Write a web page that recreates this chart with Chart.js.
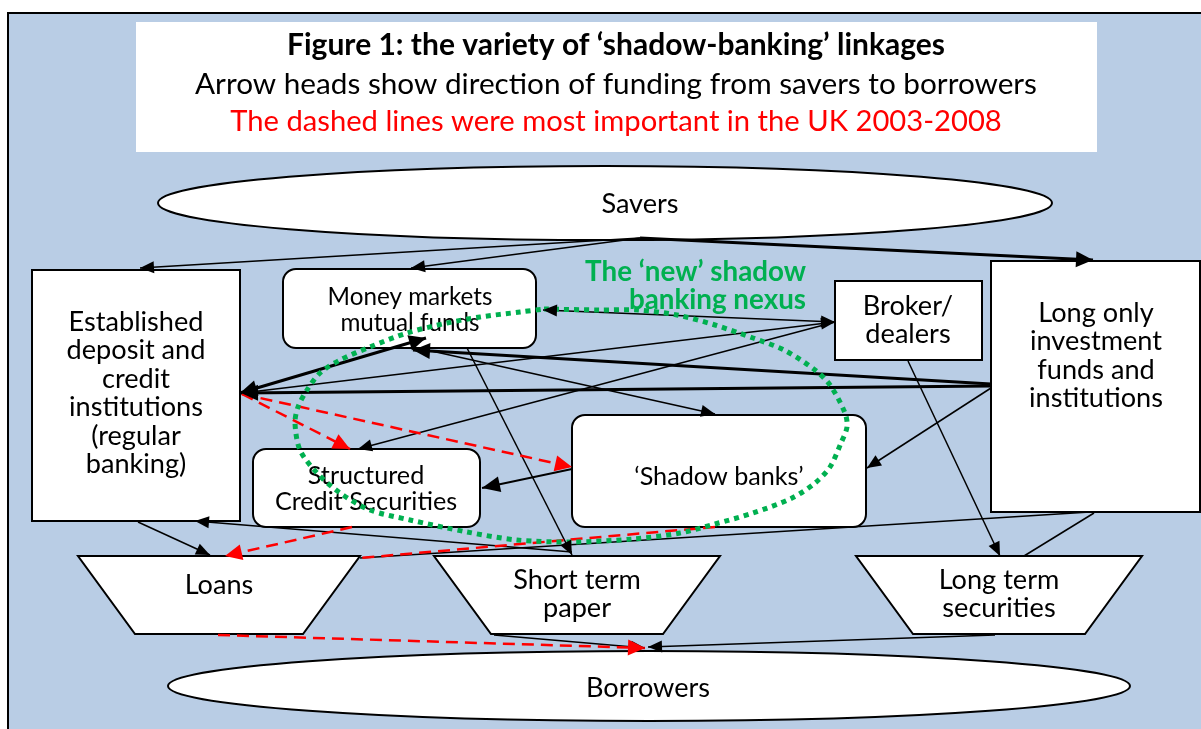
<!DOCTYPE html>
<html><head><meta charset="utf-8">
<script src="https://cdn.jsdelivr.net/npm/chart.js@4"></script>
<style>html,body{margin:0;padding:0;background:#fff;overflow:hidden}</style>
</head><body>
<canvas id="c" width="1201" height="729"></canvas>
<script>
// ---------------- DATA ----------------
const titleLines = [
  "Figure 1: the variety of \u2018shadow-banking\u2019 linkages",
  "Arrow heads show direction of funding from savers to borrowers",
  "The dashed lines were most important in the UK 2003-2008"
];
const nexusLines = ["The \u2018new\u2019 shadow", "banking nexus"];

const nodeLabels = [
  ["Savers"], ["Borrowers"],
  ["Established","deposit and","credit","institutions","(regular","banking)"],
  ["Money markets","mutual funds"], ["Broker/","dealers"],
  ["Long only","investment","funds and","institutions"],
  ["\u2018Shadow banks\u2019"], ["Structured","Credit Securities"],
  ["Loans"], ["Short term","paper"], ["Long term","securities"]
];
const nodeKinds  = ["ellipse","ellipse","rect","round","rect","rect","round","round","trap","trap","trap"];
const nodeLeft   = [158, 168,  32, 283, 835,  991, 572, 253,  78, 434,  856];
const nodeTop    = [166, 651, 270, 269, 281,  261, 415, 449, 556, 556,  556];
const nodeRight  = [1052,1130, 240, 536, 982, 1200, 866, 480, 360, 720, 1142];
const nodeBottom = [240, 721, 521, 348, 360,  512, 527, 527, 634, 634,  634];
const labelX     = [640, 648, 136, 410, 908, 1096, 719, 366, 219, 577,  999];
const labelY     = [204, 688, 322, 297, 306,  313, 477, 476, 585, 580,  580];

// funding links: start -> end (arrow head position)
const edgeX1 = [640,640,640,543,240,991,991,427,467,835,242,908,991,1094,1090,572,138,494,995,572, 242,242,352,715,218];
const edgeY1 = [238,238,238,310,393,386,384,350,348,322,393,361,388, 513, 512,552,522,635,635,469, 394,394,527,527,635];
const edgeX2 = [140,411,1093,835,426,241,413,715,572,358,835,1000,867,1024,360,195,210,645,648,482, 350,572,225,360,645];
const edgeY2 = [268,268,260,322,338,393,350,414,555,449,322,556,468, 556, 558,521,555,648,647,488, 449,467,556,558,648];
const edgeKind = ["thin","thin","thick","thin","thick","thick","thick","thin","thin","thin","thin","thin","thin","thin","thin","thin","thin","thin","thin","mid",
                  "red","red","red","red","red"];
const edgeHeads = ["end","end","end","both","both","end","end","end","end","end","end","end","end","none","none","end","end","end","end","end",
                   "end","end","end","none","end"];

// the 'new' shadow banking nexus loop
const loopX = [544,600,638,677,715,753,784,815,830,845,847,841,830,815,792,753,715,680,633,573,517,467,410,370,340,317,300,295,298,307,320,340,370,407,447,480,520,544];
const loopY = [309,310,310,315,325,338,350,370,385,413,427,443,467,483,498,513,524,533,539,542,540,532,520,510,493,473,450,423,407,390,373,360,347,333,323,317,312,309];

// ---------------- STYLE ----------------
const FONT = 'Lato, "Open Sans", "DejaVu Sans", sans-serif';
const nodeFontSize = [28,28,28,25,28,28,26,26,28,28,28];
const nodeLineGap  = [0,0,28.5,26,28,28.5,0,26,0,28,28];
const kindStyle = {
  thin:  {w:1.5, color:'#000', dash:[], headL:14, headW:6},
  mid:   {w:1.8, color:'#000', dash:[], headL:18, headW:8},
  thick: {w:3,   color:'#000', dash:[], headL:17, headW:8},
  red:   {w:2.5, color:'#ff0000', dash:[12,7], headL:17, headW:8}
};

const datasets = [];
for (let i = 0; i < edgeX1.length; i++) {
  const s = kindStyle[edgeKind[i]];
  datasets.push({
    data: [{x: edgeX1[i], y: edgeY1[i]}, {x: edgeX2[i], y: edgeY2[i]}],
    showLine: true, pointRadius: 0, borderColor: s.color, borderWidth: s.w,
    borderDash: s.dash, borderCapStyle: 'butt', fill: false,
    order: edgeKind[i] === 'red' ? 1 : 2
  });
}
datasets.push({
  data: loopX.map((x, i) => ({x, y: loopY[i]})),
  showLine: true, pointRadius: 0, borderColor: '#00b050', borderWidth: 5,
  borderDash: [5,5], borderCapStyle: 'butt', tension: 0.3, fill: false, order: 0
});

function fitSize(ctx, text, weight, target) {
  ctx.font = `${weight} 100px ${FONT}`;
  return 100 * target / ctx.measureText(text).width;
}

const diagram = {
  id: 'diagram',
  beforeDatasetsDraw(chart) {
    const ctx = chart.ctx;
    const X = v => chart.scales.x.getPixelForValue(v);
    const Y = v => chart.scales.y.getPixelForValue(v);
    ctx.save();
    // page frame
    ctx.fillStyle = '#fff'; ctx.fillRect(0,0,chart.width,chart.height);
    ctx.fillStyle = '#b9cde5';
    ctx.fillRect(X(8), Y(13), X(1220)-X(8), Y(750)-Y(13));
    ctx.strokeStyle = '#000'; ctx.lineWidth = 2;
    ctx.strokeRect(X(8), Y(13), X(1220)-X(8), Y(750)-Y(13));
    // title box
    ctx.fillStyle = '#fff';
    ctx.fillRect(X(136), Y(22), X(1097)-X(136), Y(152)-Y(22));
    const tW = [658, 842, 772], tB = [55, 94, 131], tWeight = ['bold','normal','normal'], tCol = ['#000','#000','#ff0000'];
    ctx.textAlign = 'center'; ctx.textBaseline = 'alphabetic';
    titleLines.forEach((t, i) => {
      const sz = fitSize(ctx, t, tWeight[i], tW[i]);
      ctx.font = `${tWeight[i]} ${sz}px ${FONT}`;
      ctx.fillStyle = tCol[i];
      ctx.fillText(t, X(616), Y(tB[i]));
    });
    // calibration: "Established" is ~135px wide at nominal 28px
    const cal = fitSize(ctx, "Established", 'normal', 135) / 28;
    // nodes
    for (let i = 0; i < nodeKinds.length; i++) {
      const l = X(nodeLeft[i]), t = Y(nodeTop[i]), r = X(nodeRight[i]), b = Y(nodeBottom[i]);
      ctx.beginPath();
      if (nodeKinds[i] === 'ellipse') {
        ctx.ellipse((l+r)/2, (t+b)/2, (r-l)/2, (b-t)/2, 0, 0, Math.PI*2);
      } else if (nodeKinds[i] === 'rect') {
        ctx.rect(l, t, r-l, b-t);
      } else if (nodeKinds[i] === 'round') {
        const rad = 13;
        ctx.moveTo(l+rad, t); ctx.lineTo(r-rad, t); ctx.arcTo(r, t, r, t+rad, rad);
        ctx.lineTo(r, b-rad); ctx.arcTo(r, b, r-rad, b, rad);
        ctx.lineTo(l+rad, b); ctx.arcTo(l, b, l, b-rad, rad);
        ctx.lineTo(l, t+rad); ctx.arcTo(l, t, l+rad, t, rad); ctx.closePath();
      } else {
        const ins = 57;
        ctx.moveTo(l, t); ctx.lineTo(r, t); ctx.lineTo(r-ins, b); ctx.lineTo(l+ins, b); ctx.closePath();
      }
      ctx.fillStyle = '#fff'; ctx.fill();
      ctx.lineWidth = 2; ctx.strokeStyle = '#000'; ctx.stroke();
      ctx.fillStyle = '#000'; ctx.textAlign = 'center'; ctx.textBaseline = 'middle';
      ctx.font = `normal ${nodeFontSize[i]*cal}px ${FONT}`;
      nodeLabels[i].forEach((line, k) => {
        ctx.fillText(line, X(labelX[i]), Y(labelY[i] + k*nodeLineGap[i]));
      });
    }
    ctx.restore();
  },
  afterDatasetsDraw(chart) {
    const ctx = chart.ctx;
    const X = v => chart.scales.x.getPixelForValue(v);
    const Y = v => chart.scales.y.getPixelForValue(v);
    ctx.save();
    const head = (x1, y1, x2, y2, s) => {
      const a = Math.atan2(y2-y1, x2-x1);
      ctx.beginPath();
      ctx.moveTo(x2, y2);
      ctx.lineTo(x2 - s.headL*Math.cos(a) + s.headW*Math.sin(a), y2 - s.headL*Math.sin(a) - s.headW*Math.cos(a));
      ctx.lineTo(x2 - s.headL*Math.cos(a) - s.headW*Math.sin(a), y2 - s.headL*Math.sin(a) + s.headW*Math.cos(a));
      ctx.closePath(); ctx.fillStyle = s.color; ctx.fill();
    };
    for (let i = 0; i < edgeX1.length; i++) {
      const s = kindStyle[edgeKind[i]];
      const x1 = X(edgeX1[i]), y1 = Y(edgeY1[i]), x2 = X(edgeX2[i]), y2 = Y(edgeY2[i]);
      if (edgeHeads[i] === 'end' || edgeHeads[i] === 'both') head(x1, y1, x2, y2, s);
      if (edgeHeads[i] === 'both') head(x2, y2, x1, y1, s);
    }
    // nexus label
    const sz = fitSize(ctx, nexusLines[0], 'bold', 221);
    ctx.font = `bold ${sz}px ${FONT}`;
    ctx.fillStyle = '#00b050'; ctx.textAlign = 'right'; ctx.textBaseline = 'middle';
    ctx.fillText(nexusLines[0], X(806), Y(272));
    ctx.fillText(nexusLines[1], X(806), Y(300));
    ctx.restore();
  }
};

new Chart(document.getElementById('c'), {
  type: 'scatter',
  data: { datasets },
  options: {
    responsive: false, animation: false, devicePixelRatio: 1,
    layout: { padding: 0 },
    scales: {
      x: { type: 'linear', min: 0, max: 1201, display: false },
      y: { type: 'linear', min: 0, max: 729, reverse: true, display: false }
    },
    plugins: { legend: { display: false }, tooltip: { enabled: false }, title: { display: false } },
    events: []
  },
  plugins: [diagram]
});
</script>
</body></html>
